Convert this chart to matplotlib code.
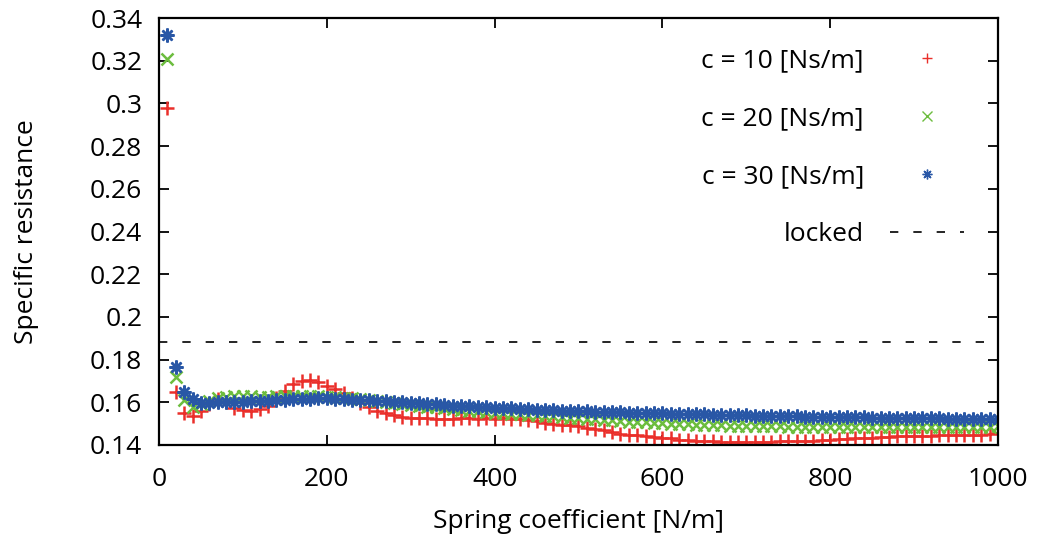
import matplotlib.pyplot as plt
import numpy as np

# spring coefficient [N/m]
k = np.arange(10, 1001, 10)

# specific resistance, c = 10 [Ns/m]
res_c10 = [0.298, 0.165, 0.155, 0.1536, 0.156, 0.159, 0.1614, 0.160, 0.1575, 0.1564,
           0.156, 0.1567, 0.1583, 0.162, 0.1654, 0.1685, 0.170, 0.1706, 0.1694, 0.1675,
           0.166, 0.1643, 0.162, 0.1596, 0.158, 0.156, 0.1548, 0.154, 0.1532, 0.1526,
           0.1526, 0.1526, 0.1524, 0.1524, 0.1524, 0.1525, 0.1525, 0.1524, 0.1525, 0.1524,
           0.1525, 0.1523, 0.1521, 0.1517, 0.1512, 0.1505, 0.150, 0.1496, 0.1492, 0.1488,
           0.148, 0.1477, 0.1469, 0.1461, 0.1453, 0.1449, 0.1446, 0.1441, 0.1438, 0.1434,
           0.1433, 0.1425, 0.1422, 0.1419, 0.1418, 0.1417, 0.1416, 0.1416, 0.1415, 0.1415,
           0.1415, 0.1416, 0.1416, 0.1417, 0.1418, 0.1419, 0.142, 0.1421, 0.1423, 0.1425,
           0.1428, 0.143, 0.1433, 0.1434, 0.1434, 0.1438, 0.1438, 0.1441, 0.1442, 0.1444,
           0.1444, 0.1444, 0.1445, 0.1446, 0.1446, 0.1447, 0.1449, 0.1449, 0.1453, 0.1457]

# c = 20 [Ns/m]
res_c20 = [0.321, 0.172, 0.161, 0.158, 0.159, 0.1605, 0.162, 0.1627, 0.1628, 0.1628,
           0.1628, 0.1627, 0.1627, 0.1628, 0.1628, 0.1628, 0.1628, 0.1628, 0.1628, 0.1627,
           0.1625, 0.1622, 0.1618, 0.1614, 0.161, 0.1605, 0.160, 0.1596, 0.1592, 0.1588,
           0.1584, 0.158, 0.1576, 0.1572, 0.1568, 0.1564, 0.1561, 0.1558, 0.1555, 0.1552,
           0.155, 0.1547, 0.1545, 0.1542, 0.154, 0.1537, 0.1534, 0.1531, 0.1528, 0.1525,
           0.1522, 0.152, 0.1517, 0.1515, 0.1513, 0.151, 0.1508, 0.1506, 0.1504, 0.1502,
           0.150, 0.1498, 0.1497, 0.1495, 0.1494, 0.1493, 0.1492, 0.1491, 0.149, 0.1489,
           0.1488, 0.1488, 0.1487, 0.1487, 0.1486, 0.1486, 0.1485, 0.1485, 0.1485, 0.1484,
           0.1484, 0.1484, 0.1483, 0.1483, 0.1483, 0.1483, 0.1483, 0.1483, 0.1483, 0.1483,
           0.1483, 0.1483, 0.1483, 0.1484, 0.1484, 0.1484, 0.1485, 0.1485, 0.1486, 0.1487]

# c = 30 [Ns/m]
res_c30 = [0.332, 0.1765, 0.165, 0.1614, 0.1598, 0.1598, 0.160, 0.160, 0.1602, 0.1603,
           0.1605, 0.1607, 0.1608, 0.161, 0.1612, 0.1614, 0.1615, 0.1617, 0.1618, 0.1618,
           0.1617, 0.1615, 0.1613, 0.1611, 0.1609, 0.1607, 0.1605, 0.1603, 0.1601, 0.1599,
           0.1596, 0.1593, 0.159, 0.1587, 0.1585, 0.1583, 0.1581, 0.1579, 0.1577, 0.1575,
           0.1573, 0.1571, 0.1569, 0.1567, 0.1566, 0.1564, 0.1563, 0.1561, 0.156, 0.1558,
           0.1557, 0.1556, 0.1555, 0.1554, 0.1553, 0.1552, 0.1551, 0.155, 0.1549, 0.1548,
           0.1547, 0.1546, 0.1545, 0.1544, 0.1543, 0.1542, 0.1541, 0.1541, 0.154, 0.1539,
           0.1538, 0.1537, 0.1536, 0.1536, 0.1535, 0.1534, 0.1533, 0.1533, 0.1532, 0.1531,
           0.1531, 0.153, 0.1529, 0.1529, 0.1528, 0.1528, 0.1527, 0.1527, 0.1526, 0.1526,
           0.1525, 0.1525, 0.1525, 0.1524, 0.1524, 0.1524, 0.1523, 0.1523, 0.1523, 0.1523]

locked = 0.1882

plt.rcParams['font.family'] = ['Open Sans', 'DejaVu Sans']
plt.rcParams['font.size'] = 19

fig = plt.figure(figsize=(10.37, 5.39), dpi=100)
ax = fig.add_axes([0.1533, 0.1744, 0.8091, 0.7922])

ax.plot(k, res_c10, ls='none', marker='+', ms=10, mew=1.8, color='#ea2f2a',
        label='c = 10 [Ns/m]')
ax.plot(k, res_c20, ls='none', marker='x', ms=8, mew=1.8, color='#6cbd3e',
        label='c = 20 [Ns/m]')
ax.plot(k, res_c30, ls='none', marker=(8, 2, 0), ms=10, mew=1.8, color='#2957a6',
        label='c = 30 [Ns/m]')
ax.axhline(locked, color='black', lw=1.2, dashes=(5, 9), label='locked')

ax.set_xlim(0, 1000)
ax.set_ylim(0.14, 0.34)
ax.set_xticks([0, 200, 400, 600, 800, 1000])
ax.set_yticks(np.arange(0.14, 0.341, 0.02))
ax.set_yticklabels(['0.14', '0.16', '0.18', '0.2', '0.22', '0.24', '0.26',
                    '0.28', '0.3', '0.32', '0.34'])
ax.tick_params(direction='in', length=7, width=1.3, top=True, right=True)
ax.tick_params(axis='y', pad=12)
ax.tick_params(axis='x', pad=16)
for s in ax.spines.values():
    s.set_linewidth(1.6)

ax.set_xlabel('Spring coefficient [N/m]', labelpad=12)
ax.set_ylabel('Specific resistance', labelpad=37)

leg = ax.legend(loc='upper right', bbox_to_anchor=(0.988, 0.985), frameon=False,
                markerfirst=False, labelspacing=1.25, handlelength=2.8,
                handletextpad=1.0)
for t in leg.get_texts():
    t.set_ha('right')
for h in leg.legend_handles[:3]:
    h.set_markersize(7)
    h.set_markeredgewidth(1.0)

fig.savefig('out.png', dpi=100)
